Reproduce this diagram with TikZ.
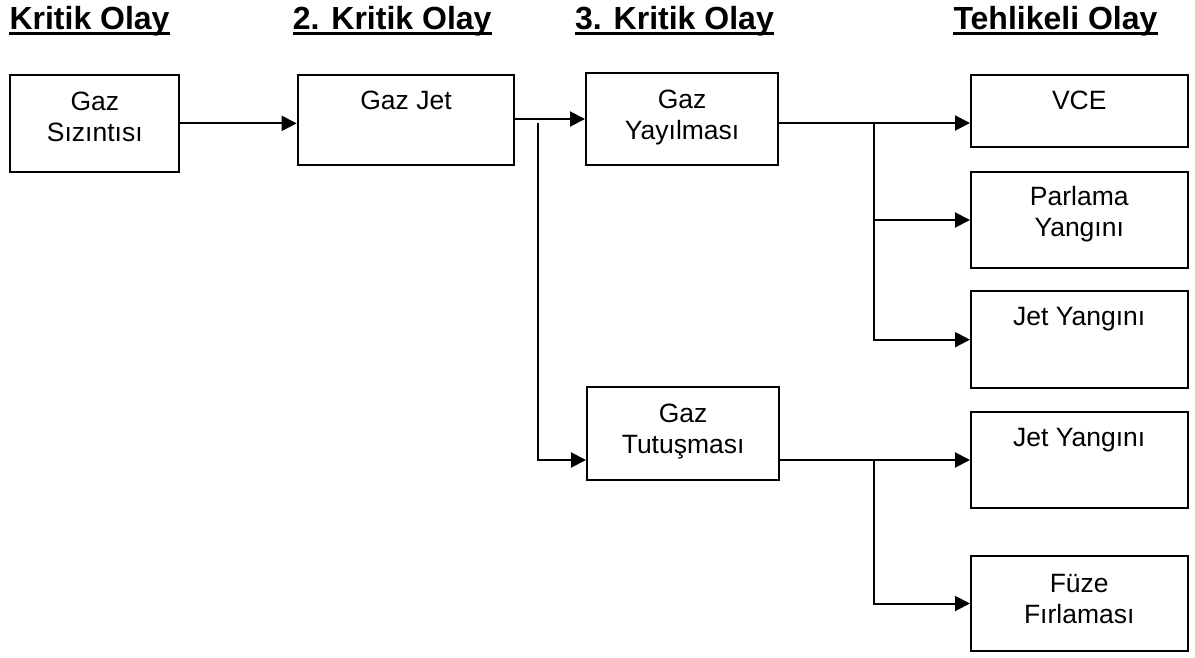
\documentclass[tikz,border=0pt]{standalone}
\usepackage{fontspec}
\setmainfont{Liberation Sans}
\usetikzlibrary{arrows.meta}
\begin{document}
\begin{tikzpicture}[x=1pt,y=-1pt,
  box/.style={draw, line width=2pt, inner sep=0pt, anchor=north west},
  lbl/.style={anchor=north, inner sep=0pt, align=center,
              font=\fontsize{26.5}{31}\selectfont},
  hdr/.style={anchor=base west, inner sep=0pt,
              font=\fontsize{32}{36}\selectfont\bfseries},
  uline/.style={line width=3.4pt},
  link/.style={line width=2pt},
  arr/.style={link, -{Triangle[length=15pt,width=15pt]}}]
\useasboundingbox (0,0) rectangle (1195,657);

% column headings
\node[hdr] (h1) at (9.3,29.3)   {Kritik Olay};
\node[hdr] (h2) at (292.7,29.3) {2. Kritik Olay};
\node[hdr] (h3) at (575,29.3)   {3. Kritik Olay};
\node[hdr] (h4) at (953.3,29.3) {Tehlikeli Olay};
\foreach \h in {h1,h2,h3,h4}
  \draw[uline] ([yshift=-4.4pt]\h.base west) -- ([yshift=-4.4pt]\h.base east);

% boxes
\node[box, minimum width=169pt, minimum height=96.7pt] (A) at (9.3,74)  {};
\node[box, minimum width=216.6pt, minimum height=90.3pt] (B) at (296.7,74) {};
\node[box, minimum width=192.3pt, minimum height=92.6pt] (C) at (585,71.7) {};
\node[box, minimum width=192.3pt, minimum height=93pt] (D) at (586,386) {};
\node[box, minimum width=216.5pt, minimum height=71.7pt] (E) at (970,74) {};
\node[box, minimum width=216.5pt, minimum height=96.6pt] (F) at (970,170.7) {};
\node[box, minimum width=216.5pt, minimum height=97.3pt] (G) at (970,290) {};
\node[box, minimum width=216.5pt, minimum height=96.6pt] (H) at (970,410.7) {};
\node[box, minimum width=216.5pt, minimum height=95pt] (I) at (970,555) {};

% box texts, set at the top of each box
\node[lbl] (tA) at ([yshift=-18pt]A.north) {Gaz\\Sızıntısı};
\node[lbl] (tB) at ([yshift=-17pt]B.north) {Gaz Jet};
\node[lbl] (tC) at ([yshift=-18pt]C.north) {Gaz\\Yayılması};
\node[lbl] (tD) at ([yshift=-18pt]D.north) {Gaz\\Tutuşması};
\node[lbl] (tE) at ([yshift=-17pt]E.north) {VCE};
\node[lbl] (tF) at ([yshift=-15pt]F.north) {Parlama\\Yangını};
\node[lbl] (tG) at ([yshift=-17pt]G.north) {Jet Yangını};
\node[lbl] (tH) at ([yshift=-17pt]H.north) {Jet Yangını};
\node[lbl] (tI) at ([yshift=-19pt]I.north) {Füze\\Fırlaması};

% connectors
\draw[arr] (A.east) -- (A.east -| B.west);
\draw[arr] (C.west -| B.east) -- (C.west);

\coordinate (jb) at (537.7,122.5);
\draw[arr] (jb) |- (D.west |- H.west);

\draw[arr] ([yshift=-4pt]C.east) -- ([yshift=-4pt]C.east -| E.west);
\coordinate (cb) at (874,122.2);
\draw[arr] (cb) |- (G.west);
\draw[arr] (cb |- F.west) -- (F.west);

\draw[arr] (D.east |- H.west) -- (H.west);
\draw[arr] (H.west -| cb) |- (I.west);
\end{tikzpicture}
\end{document}
